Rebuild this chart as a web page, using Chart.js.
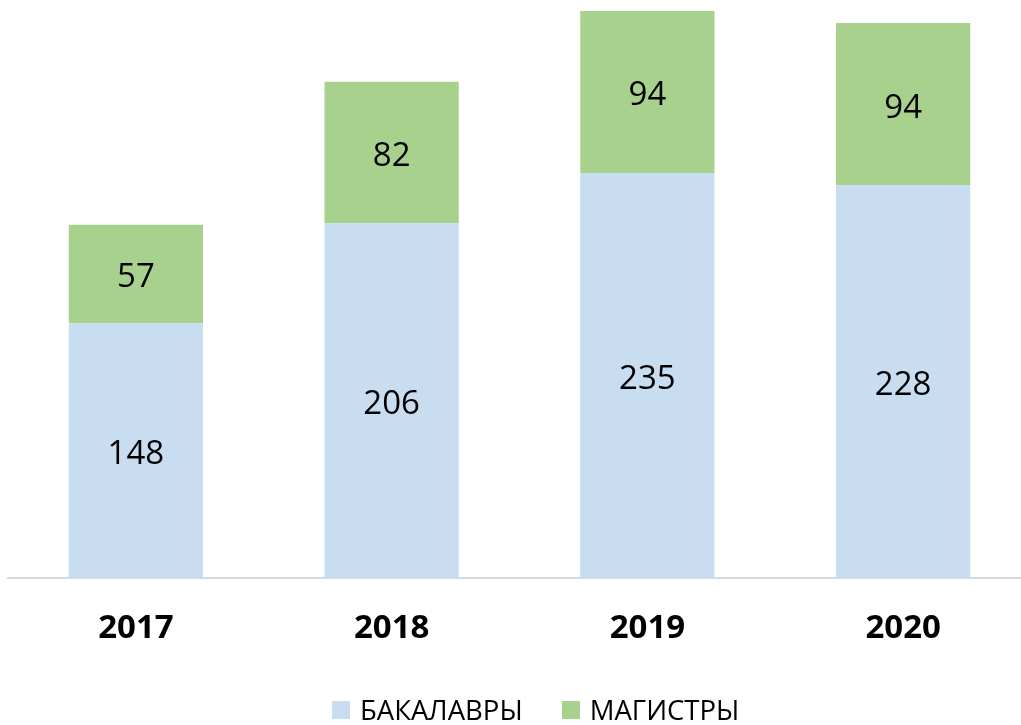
<!DOCTYPE html>
<html>
<head>
<meta charset="utf-8">
<script src="https://cdn.jsdelivr.net/npm/chart.js@4.4.0/dist/chart.umd.min.js"></script>
<style>
  html, body { margin: 0; padding: 0; background: #fff; overflow: hidden; }
  #wrap { position: absolute; left: 0; top: 0; width: 1040px; height: 725px; }
  #chart-legend { position: absolute; left: 332px; top: 692px; height: 36px; }
  #chart-legend ul { display: flex; margin: 0; padding: 0; list-style: none; }
  #chart-legend li { display: flex; align-items: center; height: 36px; margin-right: 39px; }
</style>
</head>
<body>
<div id="wrap"><canvas id="chart"></canvas></div>
<div id="chart-legend"><ul></ul></div>
<script>
// Chart data
const years = ['2017', '2018', '2019', '2020'];
const bachelors = [148, 206, 235, 228];
const masters = [57, 82, 94, 94];
const seriesNames = ['БАКАЛАВРЫ', 'МАГИСТРЫ'];

const FONT = '"Open Sans", "Noto Sans", sans-serif';

// Draws the value in the middle of each bar segment
const barValues = {
  id: 'barValues',
  afterDatasetsDraw(c) {
    const { ctx } = c;
    ctx.save();
    ctx.font = `33px ${FONT}`;
    ctx.fillStyle = '#000';
    ctx.textAlign = 'center';
    ctx.textBaseline = 'middle';
    c.data.datasets.forEach((ds, i) => {
      c.getDatasetMeta(i).data.forEach((bar, j) => {
        // small nudge down so the digits sit optically centred
        ctx.fillText(String(ds.data[j]), bar.x, (bar.y + bar.base) / 2 + 4);
      });
    });
    ctx.restore();
  },
};

// Legend drawn as HTML under the chart
const htmlLegend = {
  id: 'htmlLegend',
  afterUpdate(c, args, options) {
    const ul = document.getElementById(options.containerID).querySelector('ul');
    while (ul.firstChild) ul.firstChild.remove();
    const items = c.options.plugins.legend.labels.generateLabels(c);
    items.forEach((item) => {
      const li = document.createElement('li');
      const box = document.createElement('span');
      box.style.display = 'block';
      box.style.width = '18px';
      box.style.height = '18px';
      box.style.marginRight = '10px';
      box.style.backgroundColor = item.fillStyle;
      const label = document.createElement('span');
      label.style.font = `27.5px/36px ${FONT}`;
      label.style.color = '#000';
      label.appendChild(document.createTextNode(item.text));
      li.appendChild(box);
      li.appendChild(label);
      ul.appendChild(li);
    });
  },
};

// eslint-disable-next-line no-unused-vars
const chart = new Chart(document.getElementById('chart'), {
  type: 'bar',
  data: {
    labels: years,
    datasets: [
      {
        label: seriesNames[0],
        data: bachelors,
        backgroundColor: '#C9DDF1',
      },
      {
        label: seriesNames[1],
        data: masters,
        backgroundColor: '#A9D18E',
      },
    ],
  },
  options: {
    responsive: true,
    maintainAspectRatio: false,
    animation: false,
    layout: {
      padding: { top: 11, left: 8, right: 9, bottom: 55 },
    },
    datasets: {
      bar: {
        categoryPercentage: 1,
        barPercentage: 0.525,
      },
    },
    scales: {
      x: {
        stacked: true,
        grid: { display: false },
        border: { display: true, color: '#D9D9D9', width: 2 },
        ticks: {
          color: '#000',
          padding: 22,
          font: { family: FONT, size: 33, weight: 'bold' },
        },
      },
      y: {
        stacked: true,
        display: false,
        min: 0,
        max: 329,
      },
    },
    plugins: {
      tooltip: { enabled: false },
      legend: { display: false },
      htmlLegend: { containerID: 'chart-legend' },
    },
  },
  plugins: [barValues, htmlLegend],
});
</script>
</body>
</html>
